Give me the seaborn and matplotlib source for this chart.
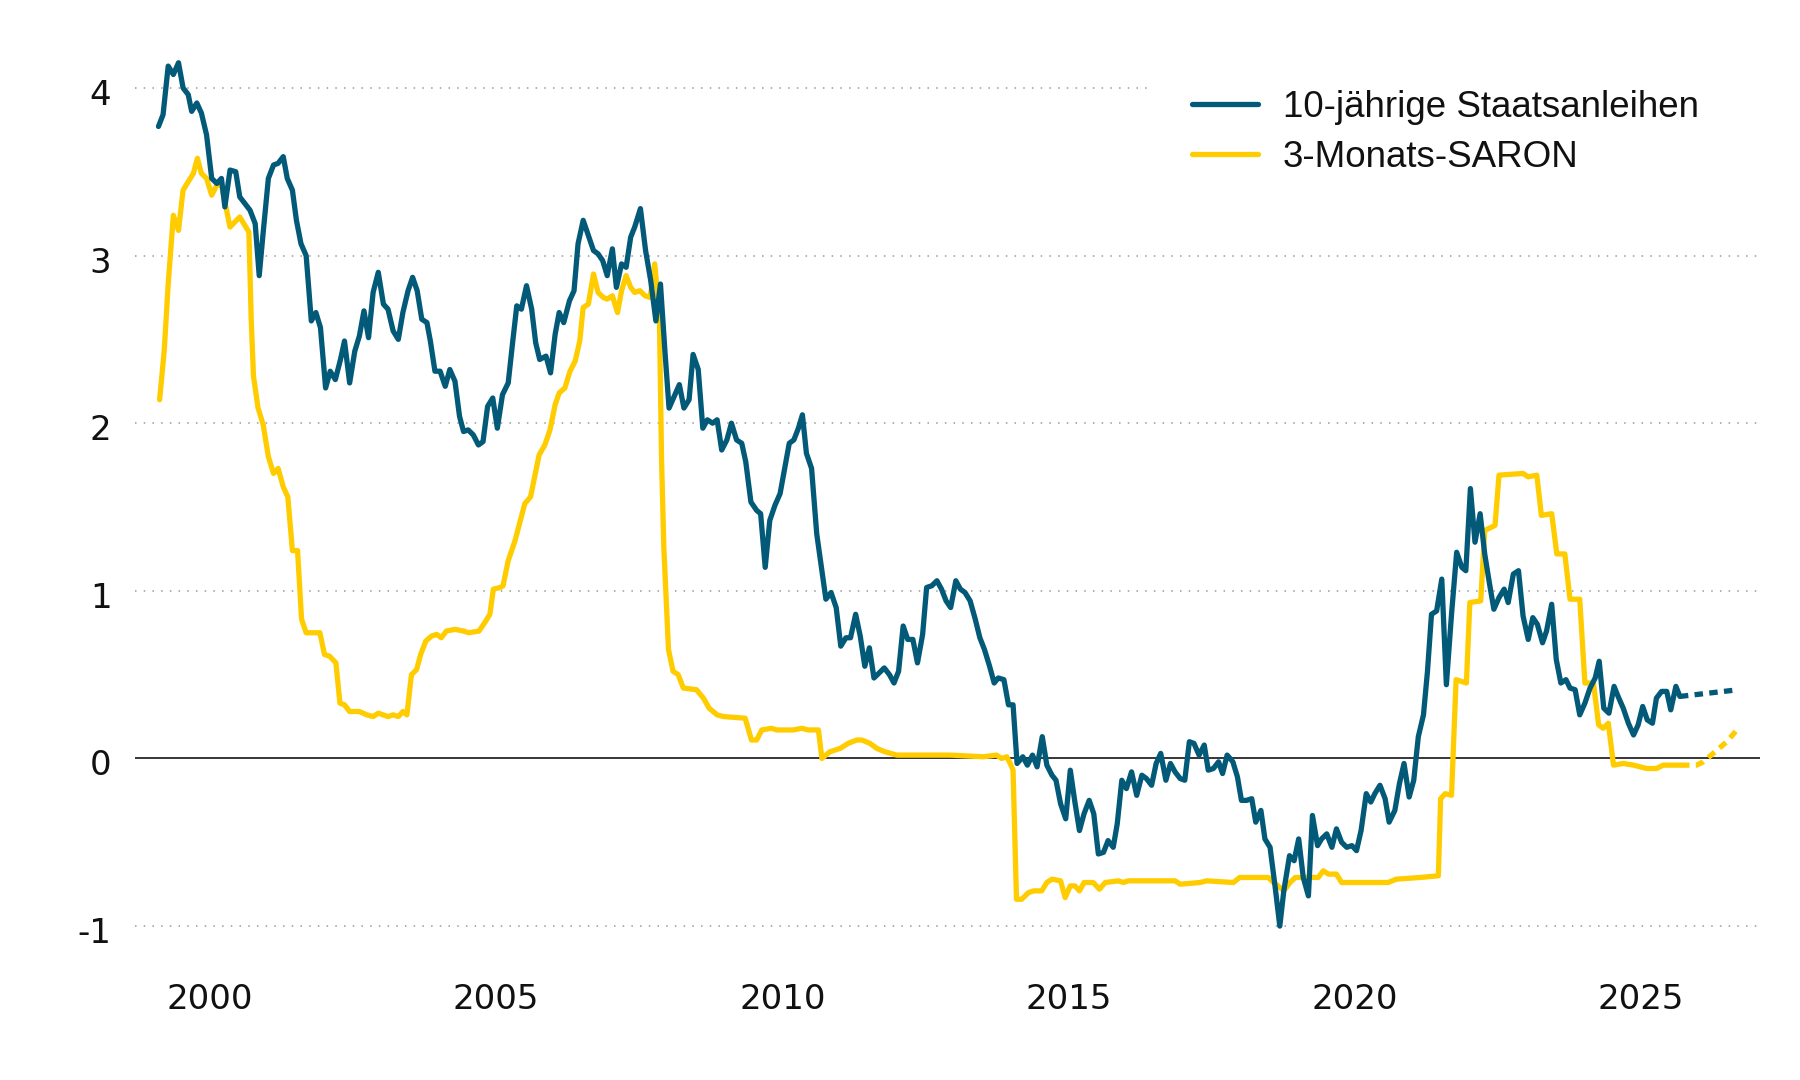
import matplotlib
matplotlib.use("Agg")
import matplotlib.pyplot as plt
import matplotlib.transforms as mtransforms
from matplotlib.lines import Line2D
import seaborn as sns
import pandas as pd

# Daten, x = Position in Jahren
bond_years = [
    1999.10, 1999.18, 1999.27, 1999.36, 1999.45, 1999.53, 1999.62, 1999.68, 1999.77, 1999.85,
    1999.94, 2000.03, 2000.12, 2000.20, 2000.26, 2000.35, 2000.45, 2000.52, 2000.61, 2000.70,
    2000.79, 2000.86, 2000.93, 2001.02, 2001.11, 2001.19, 2001.28, 2001.35, 2001.44, 2001.51,
    2001.59, 2001.68, 2001.77, 2001.85, 2001.93, 2002.02, 2002.10, 2002.19, 2002.28, 2002.35,
    2002.44, 2002.53, 2002.61, 2002.69, 2002.77, 2002.85, 2002.94, 2003.03, 2003.11, 2003.20,
    2003.29, 2003.37, 2003.46, 2003.54, 2003.62, 2003.70, 2003.79, 2003.85, 2003.93, 2004.02,
    2004.11, 2004.19, 2004.28, 2004.36, 2004.43, 2004.51, 2004.60, 2004.69, 2004.77, 2004.85,
    2004.94, 2005.02, 2005.11, 2005.21, 2005.29, 2005.36, 2005.44, 2005.53, 2005.62, 2005.69,
    2005.76, 2005.87, 2005.95, 2006.03, 2006.10, 2006.18, 2006.28, 2006.36, 2006.43, 2006.52,
    2006.61, 2006.70, 2006.78, 2006.86, 2006.94, 2007.03, 2007.10, 2007.19, 2007.27, 2007.35,
    2007.42, 2007.52, 2007.61, 2007.70, 2007.79, 2007.87, 2007.95, 2008.02, 2008.11, 2008.20,
    2008.28, 2008.37, 2008.44, 2008.53, 2008.61, 2008.69, 2008.78, 2008.86, 2008.94, 2009.03,
    2009.11, 2009.20, 2009.29, 2009.36, 2009.45, 2009.55, 2009.62, 2009.70, 2009.78, 2009.87,
    2009.96, 2010.05, 2010.12, 2010.20, 2010.28, 2010.35, 2010.42, 2010.51, 2010.60, 2010.69,
    2010.76, 2010.85, 2010.94, 2011.02, 2011.11, 2011.19, 2011.28, 2011.36, 2011.44, 2011.52,
    2011.60, 2011.69, 2011.78, 2011.87, 2011.95, 2012.03, 2012.11, 2012.19, 2012.28, 2012.36,
    2012.45, 2012.52, 2012.61, 2012.70, 2012.78, 2012.86, 2012.94, 2013.03, 2013.11, 2013.19,
    2013.28, 2013.37, 2013.45, 2013.53, 2013.62, 2013.70, 2013.77, 2013.87, 2013.95, 2014.03,
    2014.10, 2014.20, 2014.28, 2014.37, 2014.45, 2014.54, 2014.62, 2014.71, 2014.78, 2014.86,
    2014.95, 2015.03, 2015.11, 2015.19, 2015.27, 2015.36, 2015.44, 2015.52, 2015.61, 2015.69,
    2015.78, 2015.85, 2015.93, 2016.01, 2016.10, 2016.19, 2016.28, 2016.36, 2016.45, 2016.53,
    2016.61, 2016.70, 2016.78, 2016.86, 2016.95, 2017.03, 2017.11, 2017.19, 2017.28, 2017.37,
    2017.44, 2017.53, 2017.62, 2017.69, 2017.77, 2017.87, 2017.95, 2018.02, 2018.11, 2018.20,
    2018.27, 2018.36, 2018.43, 2018.52, 2018.61, 2018.69, 2018.76, 2018.86, 2018.94, 2019.02,
    2019.10, 2019.19, 2019.26, 2019.35, 2019.42, 2019.51, 2019.60, 2019.68, 2019.77, 2019.86,
    2019.95, 2020.03, 2020.11, 2020.20, 2020.28, 2020.35, 2020.44, 2020.53, 2020.60, 2020.70,
    2020.78, 2020.86, 2020.95, 2021.03, 2021.11, 2021.20, 2021.27, 2021.34, 2021.43, 2021.52,
    2021.60, 2021.69, 2021.78, 2021.87, 2021.94, 2022.02, 2022.10, 2022.19, 2022.27, 2022.35,
    2022.43, 2022.52, 2022.61, 2022.68, 2022.77, 2022.86, 2022.94, 2023.03, 2023.11, 2023.19,
    2023.28, 2023.35, 2023.44, 2023.52, 2023.60, 2023.69, 2023.76, 2023.85, 2023.93, 2024.02,
    2024.11, 2024.20, 2024.27, 2024.35, 2024.44, 2024.53, 2024.60, 2024.69, 2024.78, 2024.87,
    2024.95, 2025.03, 2025.11, 2025.20, 2025.27, 2025.36, 2025.45, 2025.52, 2025.61, 2025.68,
]
bond_vals = [
    3.77, 3.84, 4.13, 4.08, 4.15, 4.00, 3.96, 3.86, 3.91, 3.85,
    3.72, 3.46, 3.43, 3.46, 3.29, 3.51, 3.50, 3.35, 3.31, 3.27,
    3.19, 2.88, 3.14, 3.46, 3.54, 3.55, 3.59, 3.46, 3.39, 3.21,
    3.07, 3.00, 2.61, 2.66, 2.57, 2.21, 2.31, 2.26, 2.38, 2.49,
    2.24, 2.43, 2.52, 2.67, 2.51, 2.78, 2.90, 2.71, 2.68, 2.55,
    2.50, 2.66, 2.79, 2.87, 2.79, 2.62, 2.60, 2.49, 2.31, 2.31,
    2.22, 2.32, 2.25, 2.04, 1.95, 1.96, 1.93, 1.87, 1.89, 2.10,
    2.15, 1.97, 2.17, 2.24, 2.49, 2.70, 2.68, 2.82, 2.68, 2.48,
    2.38, 2.40, 2.30, 2.53, 2.66, 2.60, 2.73, 2.79, 3.07, 3.21,
    3.12, 3.03, 3.01, 2.97, 2.88, 3.04, 2.81, 2.95, 2.93, 3.11,
    3.17, 3.28, 3.03, 2.85, 2.61, 2.83, 2.42, 2.09, 2.16, 2.23,
    2.09, 2.14, 2.41, 2.32, 1.97, 2.02, 2.00, 2.02, 1.84, 1.90,
    2.00, 1.90, 1.88, 1.77, 1.53, 1.48, 1.46, 1.14, 1.42, 1.51,
    1.58, 1.75, 1.88, 1.90, 1.97, 2.05, 1.82, 1.73, 1.34, 1.12,
    0.95, 0.99, 0.90, 0.67, 0.72, 0.72, 0.86, 0.73, 0.55, 0.66,
    0.48, 0.51, 0.54, 0.50, 0.45, 0.52, 0.79, 0.71, 0.71, 0.57,
    0.74, 1.02, 1.03, 1.06, 1.01, 0.94, 0.90, 1.06, 1.01, 0.99,
    0.94, 0.83, 0.72, 0.65, 0.55, 0.45, 0.48, 0.47, 0.32, 0.32,
    -0.03, 0.01, -0.04, 0.02, -0.05, 0.13, -0.04, -0.10, -0.13, -0.27,
    -0.36, -0.07, -0.26, -0.43, -0.33, -0.25, -0.33, -0.57, -0.56, -0.49,
    -0.53, -0.39, -0.13, -0.18, -0.08, -0.22, -0.10, -0.12, -0.16, -0.03,
    0.03, -0.13, -0.03, -0.08, -0.12, -0.13, 0.10, 0.09, 0.02, 0.08,
    -0.07, -0.06, -0.02, -0.09, 0.02, -0.02, -0.11, -0.25, -0.25, -0.24,
    -0.38, -0.31, -0.48, -0.53, -0.77, -1.00, -0.79, -0.58, -0.61, -0.48,
    -0.71, -0.82, -0.34, -0.52, -0.48, -0.45, -0.53, -0.42, -0.50, -0.53,
    -0.52, -0.55, -0.43, -0.21, -0.26, -0.21, -0.16, -0.24, -0.38, -0.31,
    -0.15, -0.03, -0.23, -0.13, 0.13, 0.26, 0.52, 0.86, 0.88, 1.07,
    0.44, 0.86, 1.23, 1.14, 1.12, 1.61, 1.29, 1.46, 1.22, 1.05,
    0.89, 0.96, 1.01, 0.93, 1.10, 1.12, 0.85, 0.71, 0.84, 0.80,
    0.69, 0.76, 0.92, 0.59, 0.45, 0.47, 0.42, 0.41, 0.26, 0.33,
    0.42, 0.48, 0.58, 0.30, 0.27, 0.43, 0.37, 0.30, 0.21, 0.14,
    0.20, 0.31, 0.23, 0.21, 0.36, 0.40, 0.40, 0.29, 0.43, 0.37,
]
bond_fc_years = [2025.68, 2026.70]
bond_fc_vals = [0.37, 0.41]

saron_years = [
    1999.12, 1999.20, 1999.27, 1999.36, 1999.45, 1999.53, 1999.62, 1999.71, 1999.78, 1999.85,
    1999.94, 2000.03, 2000.12, 2000.20, 2000.35, 2000.52, 2000.61, 2000.68, 2000.72, 2000.76,
    2000.84, 2000.93, 2001.02, 2001.11, 2001.19, 2001.28, 2001.36, 2001.44, 2001.53, 2001.60,
    2001.68, 2001.92, 2002.00, 2002.09, 2002.20, 2002.27, 2002.35, 2002.44, 2002.61, 2002.74,
    2002.85, 2002.94, 2003.11, 2003.20, 2003.29, 2003.37, 2003.44, 2003.52, 2003.61, 2003.68,
    2003.77, 2003.87, 2003.96, 2004.04, 2004.13, 2004.28, 2004.43, 2004.52, 2004.70, 2004.80,
    2004.89, 2004.95, 2005.07, 2005.12, 2005.21, 2005.33, 2005.50, 2005.60, 2005.75, 2005.85,
    2005.94, 2006.03, 2006.10, 2006.20, 2006.29, 2006.38, 2006.46, 2006.52, 2006.61, 2006.70,
    2006.78, 2006.87, 2006.94, 2007.03, 2007.12, 2007.19, 2007.27, 2007.35, 2007.42, 2007.51,
    2007.60, 2007.69, 2007.77, 2007.85, 2007.89, 2007.93, 2008.01, 2008.09, 2008.18, 2008.27,
    2008.50, 2008.62, 2008.72, 2008.86, 2008.97, 2009.35, 2009.46, 2009.55, 2009.64, 2009.81,
    2009.90, 2010.19, 2010.34, 2010.45, 2010.63, 2010.69, 2010.83, 2011.01, 2011.15, 2011.30,
    2011.39, 2011.53, 2011.65, 2011.79, 2012.00, 2012.35, 2012.93, 2013.51, 2013.74, 2013.83,
    2013.92, 2013.98, 2014.03, 2014.09, 2014.18, 2014.30, 2014.39, 2014.53, 2014.62, 2014.71,
    2014.86, 2014.94, 2015.03, 2015.11, 2015.19, 2015.27, 2015.43, 2015.54, 2015.64, 2015.87,
    2015.96, 2016.04, 2016.86, 2016.95, 2017.30, 2017.41, 2017.88, 2017.99, 2018.49, 2018.58,
    2018.66, 2018.76, 2018.87, 2018.96, 2019.36, 2019.45, 2019.54, 2019.68, 2019.77, 2020.03,
    2020.58, 2020.73, 2021.14, 2021.46, 2021.50, 2021.58, 2021.69, 2021.77, 2021.95, 2022.01,
    2022.20, 2022.27, 2022.45, 2022.52, 2022.94, 2023.03, 2023.18, 2023.26, 2023.44, 2023.53,
    2023.67, 2023.76, 2023.93, 2024.02, 2024.17, 2024.26, 2024.34, 2024.43, 2024.52, 2024.69,
    2024.87, 2025.10, 2025.27, 2025.39, 2025.70,
]
saron_vals = [
    2.14, 2.43, 2.83, 3.24, 3.15, 3.39, 3.44, 3.49, 3.58, 3.49,
    3.46, 3.36, 3.42, 3.42, 3.17, 3.23, 3.18, 3.14, 2.62, 2.28,
    2.09, 1.99, 1.80, 1.70, 1.73, 1.62, 1.56, 1.24, 1.24, 0.83,
    0.75, 0.75, 0.62, 0.61, 0.57, 0.33, 0.32, 0.28, 0.28, 0.26,
    0.25, 0.27, 0.25, 0.26, 0.25, 0.28, 0.26, 0.50, 0.53, 0.62,
    0.70, 0.73, 0.74, 0.72, 0.76, 0.77, 0.76, 0.75, 0.76, 0.81,
    0.86, 1.01, 1.02, 1.03, 1.18, 1.30, 1.52, 1.56, 1.81, 1.87,
    1.96, 2.11, 2.18, 2.21, 2.31, 2.37, 2.49, 2.69, 2.71, 2.89,
    2.78, 2.75, 2.74, 2.76, 2.66, 2.79, 2.88, 2.81, 2.78, 2.79,
    2.76, 2.75, 2.95, 2.66, 1.77, 1.25, 0.65, 0.52, 0.50, 0.42,
    0.41, 0.36, 0.30, 0.26, 0.25, 0.24, 0.11, 0.11, 0.17, 0.18,
    0.17, 0.17, 0.18, 0.17, 0.17, 0.00, 0.04, 0.06, 0.09, 0.11,
    0.11, 0.09, 0.06, 0.04, 0.02, 0.02, 0.02, 0.01, 0.02, 0.00,
    0.01, -0.03, -0.07, -0.84, -0.84, -0.80, -0.79, -0.79, -0.74, -0.72,
    -0.73, -0.83, -0.76, -0.76, -0.79, -0.74, -0.74, -0.78, -0.74, -0.73,
    -0.74, -0.73, -0.73, -0.75, -0.74, -0.73, -0.74, -0.71, -0.71, -0.74,
    -0.76, -0.79, -0.74, -0.71, -0.71, -0.67, -0.69, -0.69, -0.74, -0.74,
    -0.74, -0.72, -0.71, -0.70, -0.24, -0.21, -0.22, 0.47, 0.45, 0.93,
    0.94, 1.36, 1.39, 1.69, 1.70, 1.68, 1.69, 1.45, 1.46, 1.22,
    1.22, 0.95, 0.95, 0.45, 0.45, 0.20, 0.18, 0.21, -0.04, -0.03,
    -0.04, -0.06, -0.06, -0.04, -0.04,
]
saron_fc_years = [2025.70, 2025.97, 2026.09, 2026.26, 2026.50, 2026.70]
saron_fc_vals = [-0.04, -0.04, -0.02, 0.03, 0.10, 0.18]

series_labels = ["10-jährige Staatsanleihen", "3-Monats-SARON"]
xtick_years = [2000, 2005, 2010, 2015, 2020, 2025]
ytick_vals = [-1, 0, 1, 2, 3, 4]

BLUE = "#035a78"
YELLOW = "#ffcc00"

sns.set_style("white")
plt.rcParams["font.family"] = ["DejaVu Sans"]
plt.rcParams["axes.unicode_minus"] = False

bond = pd.DataFrame({"year": bond_years, "rate": bond_vals})
bond_fc = pd.DataFrame({"year": bond_fc_years, "rate": bond_fc_vals})
saron = pd.DataFrame({"year": saron_years, "rate": saron_vals})
saron_fc = pd.DataFrame({"year": saron_fc_years, "rate": saron_fc_vals})

fig = plt.figure(figsize=(18, 10.8), dpi=100)
ax = fig.add_axes([0.075, 0.1037, 0.9028, 0.877])

# Gitter (gepunktet), Linie bei 4 endet vor der Legende
for v in ytick_vals:
    if v == 0:
        continue
    xmax = 0.623 if v == 4 else 1.0
    ax.axhline(v, xmin=0, xmax=xmax, color="#9a9a9a", lw=1.1,
               linestyle=(0, (1, 4.7)), zorder=1)
ax.axhline(0, color="black", lw=1.1, zorder=2)
n_ref = len(ax.lines)

lw = 3.8
dash = (0, (1.6, 1.2))
sns.lineplot(data=saron, x="year", y="rate", color=YELLOW,
             estimator=None, sort=False, ax=ax, zorder=3)
sns.lineplot(data=saron_fc, x="year", y="rate", color=YELLOW,
             estimator=None, sort=False, ax=ax, zorder=3, linestyle=dash)
sns.lineplot(data=bond, x="year", y="rate", color=BLUE,
             estimator=None, sort=False, ax=ax, zorder=4)
sns.lineplot(data=bond_fc, x="year", y="rate", color=BLUE,
             estimator=None, sort=False, ax=ax, zorder=4, linestyle=dash)
for line in ax.lines[n_ref:]:
    line.set_linewidth(lw)
    line.set_solid_joinstyle("round")

ax.set_xlim(1998.69, 2027.08)
ax.set_ylim(-1.25, 4.4)
ax.set_xticks(xtick_years, labels=[str(y) for y in xtick_years])
ax.set_yticks(ytick_vals, labels=[str(v) for v in ytick_vals])
ax.tick_params(axis="both", length=0, labelsize=24.5, labelcolor="#111111")
ax.tick_params(axis="y", pad=17)
ax.tick_params(axis="x", pad=11)
ax.set_xlabel("")
ax.set_ylabel("")
ax.grid(False)
for s in ax.spines.values():
    s.set_visible(False)

# y-Beschriftungen leicht unter die Gitterlinie setzen
shift = mtransforms.ScaledTranslation(0, -4 / 100, fig.dpi_scale_trans)
for lab in ax.get_yticklabels():
    lab.set_transform(lab.get_transform() + shift)

handles = [Line2D([], [], color=BLUE, lw=3.8), Line2D([], [], color=YELLOW, lw=3.8)]
leg = fig.legend(handles, series_labels, loc="upper left",
                 bbox_to_anchor=(1192 / 1800, 1 - 90 / 1080), frameon=False,
                 prop={"family": "Liberation Sans", "size": 26.5},
                 borderpad=0, borderaxespad=0, handlelength=1.8,
                 handletextpad=0.66, labelspacing=0.41, labelcolor="#111111")

fig.savefig("out.png", dpi=100, facecolor="white")
